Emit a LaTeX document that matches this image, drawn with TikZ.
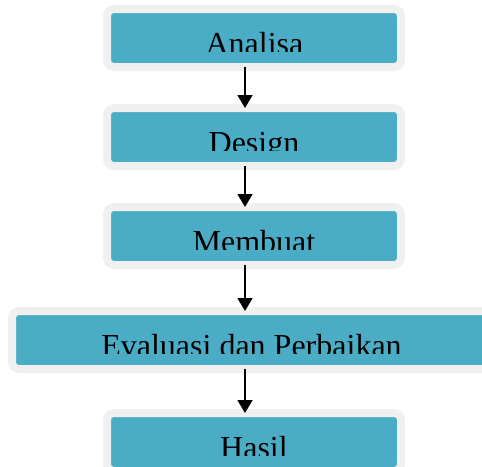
\documentclass[tikz,border=0pt]{standalone}
\usepackage{fontspec}
\setmainfont{Liberation Serif}
\usetikzlibrary{arrows.meta}
\definecolor{tealfill}{HTML}{4BACC6}
\definecolor{bandgray}{HTML}{F0F0F0}
\begin{document}
\begin{tikzpicture}[x=1pt,y=-1pt,
  stepbox/.style={draw=bandgray, fill=tealfill, line width=8pt, rounded corners=7pt,
    inner sep=0pt, outer sep=0pt, minimum height=58pt},
  lbl/.style={anchor=base, inner sep=0pt, text=black, font=\fontsize{32}{38}\selectfont},
  arr/.style={line width=1.5pt, -{Triangle[width=15pt,length=13pt]}}]
\useasboundingbox (0,0) rectangle (482,466);
% boxes
\node[stepbox, minimum width=294pt] (b1) at (254,38) {};
\node[stepbox, minimum width=294pt] (b2) at (254,137) {};
\node[stepbox, minimum width=294pt] (b3) at (254,236) {};
\node[stepbox, minimum width=479pt] (b4) at (251.5,340) {};
\node[stepbox, minimum width=294pt] (b5) at (254,442) {};
% labels (clipped as in the reference)
\begin{scope}\clip (0,0) rectangle (482,51.5);
  \node[lbl] (t1) at (254.5,54) {Analisa};\end{scope}
\begin{scope}\clip (0,100) rectangle (482,150.5);
  \node[lbl] (t2) at (254,153) {Design};\end{scope}
\begin{scope}\clip (0,200) rectangle (482,249);
  \node[lbl] (t3) at (254,252) {Membuat};\end{scope}
\begin{scope}\clip (0,300) rectangle (482,353);
  \node[lbl] (t4) at (251.5,356) {Evaluasi dan Perbaikan};\end{scope}
\begin{scope}\clip (0,400) rectangle (482,455);
  \node[lbl] (t5) at (254,458) {Hasil};\end{scope}
% connectors
\coordinate (ax) at (245,0);
\draw[arr] (b1.south -| ax) -- (b2.north -| ax);
\draw[arr] (b2.south -| ax) -- (b3.north -| ax);
\draw[arr] (b3.south -| ax) -- (b4.north -| ax);
\draw[arr] (b4.south -| ax) -- (b5.north -| ax);
\end{tikzpicture}
\end{document}
